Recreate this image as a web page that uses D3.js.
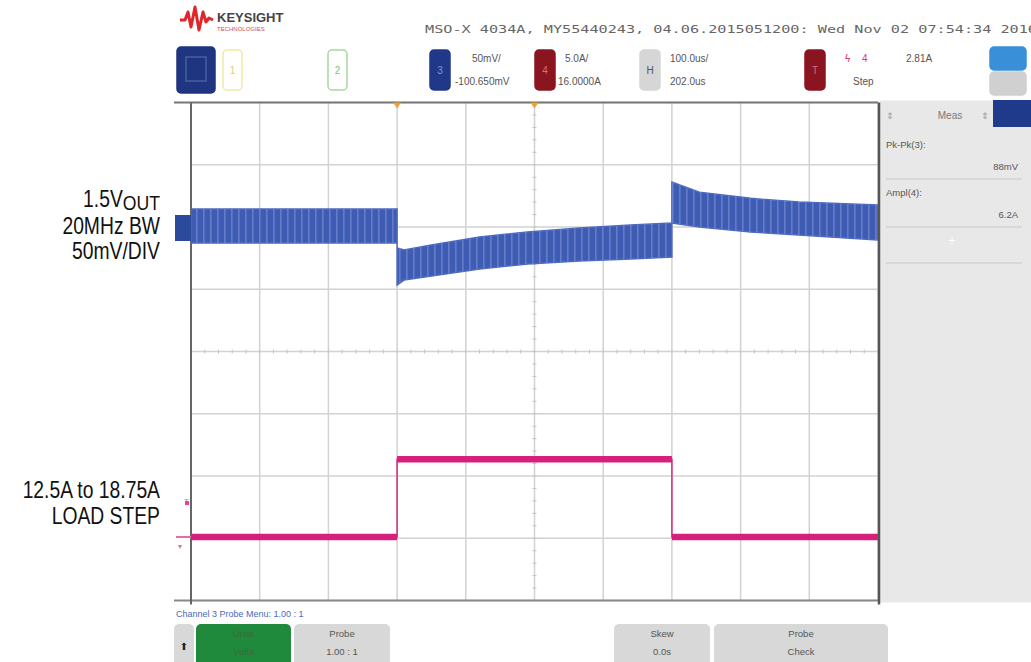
<!DOCTYPE html>
<html><head><meta charset="utf-8">
<script src="https://cdn.jsdelivr.net/npm/d3@7"></script>
<style>
html,body{margin:0;padding:0;background:#fff;}
svg{display:block;}
.lab{font-family:"Liberation Sans","Arial",sans-serif;font-size:23px;fill:#111;}
.ui{font-family:"Liberation Sans","DejaVu Sans",sans-serif;fill:#555;}
</style></head><body>
<svg id="c" width="1031" height="662"></svg>
<script>
// ---- data (time in µs across the 10-div screen, 100 µs/div) ----
const timeTicks = [0,100,200,300,400,500,600,700,800,900,1000];
const voltTicks = [-300,-250,-200,-150,-100,-50,0,50,100];   // mV around 1.5V, 50mV/div
// 1.5V output ripple envelope (mV deviation)
const vTime  = [0, 300, 300, 310, 350, 420, 490, 565, 640, 700, 700, 740, 815, 885, 1000];
const vUpper = [14.5, 14.5, -16.9, -18.5, -14.5, -8, -4, -0.8, 1.6, 3.2, 36, 28, 23, 20, 17.7];
const vLower = [-12.9, -12.9, -46.6, -42.6, -39.4, -33.7, -29.7, -27.3, -25.7, -24.1, 3.2, 0, -4, -6.4, -10.4];
// load current step (A)
const iTime  = [0, 300, 300, 700, 700, 1000];
const iLevel = [12.5, 12.5, 18.75, 18.75, 12.5, 12.5];
// measurement panel
const measNames  = ["Pk-Pk(3):", "Ampl(4):"];
const measValues = ["88mV", "6.2A"];

const svg = d3.select("#c");
const L=191, R=878, T=102.5, B=600.5;
const x  = d3.scaleLinear().domain([0,1000]).range([L,R]);
const yV = d3.scaleLinear().domain([-300,100]).range([B,T]);
const yI = d3.scaleLinear().domain([7.4,47.4]).range([B,T]);

const defs = svg.append("defs");
const pat = defs.append("pattern").attr("id","rip").attr("width",7).attr("height",5).attr("patternUnits","userSpaceOnUse");
pat.append("rect").attr("x",0).attr("y",0).attr("width",1.6).attr("height",5).attr("fill","#9aaae0").attr("opacity",0.4);
defs.append("clipPath").attr("id","plotclip").append("rect").attr("x",L).attr("y",T).attr("width",R-L).attr("height",B-T);

// ---------- header ----------
const logo = svg.append("g");
logo.append("path").attr("d","M180,20 L185,20 L188,12 L191,27 L195,7 L199,30 L203,12 L206,22 L209,18 L213,20")
  .attr("fill","none").attr("stroke","#e0262a").attr("stroke-width",3).attr("stroke-linejoin","round");
logo.append("text").attr("x",217).attr("y",22).attr("class","ui").style("font-size","13px").style("font-weight","bold").style("fill","#444").text("KEYSIGHT");
logo.append("text").attr("x",217).attr("y",31).attr("class","ui").style("font-size","6px").style("fill","#d05050").text("TECHNOLOGIES");
svg.append("text").attr("x",425).attr("y",33).style("font-family","DejaVu Sans Mono,monospace").style("font-size","11px").style("fill","#666")
  .attr("textLength",612).attr("lengthAdjust","spacingAndGlyphs").text("MSO-X 4034A, MY55440243, 04.06.2015051200: Wed Nov 02 07:54:34 2016");

function box(x0,y0,w,h,fill,stroke,label,lc){
  svg.append("rect").attr("x",x0).attr("y",y0).attr("width",w).attr("height",h).attr("rx",4)
    .attr("fill",fill).attr("stroke",stroke).attr("stroke-width",1.5);
  if(label) svg.append("text").attr("x",x0+w/2).attr("y",y0+h/2+4).attr("text-anchor","middle").attr("class","ui")
    .style("font-size","10px").style("fill",lc).text(label);
}
box(177,47,38,46,"#1f3580","#1f3580","","");
svg.append("rect").attr("x",186).attr("y",57).attr("width",20).attr("height",24).attr("fill","none").attr("stroke","#4a5fa0").attr("stroke-width",1.5);
box(223,50,19,40,"#fff","#f0eaa0","1","#e0d070");
box(328,50,19,40,"#fff","#a8d8a0","2","#80c070");
box(430,50,20,40,"#21388a","#21388a","3","#7f93d0");
box(535,50,20,40,"#8a1420","#8a1420","4","#d07080");
box(640,50,20,40,"#d6d6d6","#d6d6d6","H","#555");
box(805,50,20,40,"#8a1420","#8a1420","T","#d07080");
box(990,47,36,23,"#3a90d8","#3a90d8","","");
box(990,72,36,23,"#d0d0d0","#d0d0d0","","");
const hdr = [[472,62,"50mV/"],[455,85,"-100.650mV"],[565,62,"5.0A/"],[558,85,"16.0000A"],[670,62,"100.0us/"],[670,85,"202.0us"],[906,62,"2.81A"],[853,85,"Step"]];
hdr.forEach(d=>svg.append("text").attr("x",d[0]).attr("y",d[1]).attr("class","ui").style("font-size","10px").style("fill","#555").text(d[2]));
svg.append("text").attr("x",845).attr("y",62).attr("class","ui").style("font-size","10px").style("fill","#e0307a").text("ϟ");
svg.append("text").attr("x",862).attr("y",62).attr("class","ui").style("font-size","10px").style("fill","#e0307a").text("4");

// ---------- right measurement panel ----------
svg.append("rect").attr("x",R+2).attr("y",T-2).attr("width",1031-R-2).attr("height",B-T+4).attr("fill","#e8e8e8");
svg.append("rect").attr("x",993).attr("y",100).attr("width",38).attr("height",27).attr("fill","#1f3a8a");
svg.append("text").attr("x",950).attr("y",119).attr("text-anchor","middle").attr("class","ui").style("font-size","10px").style("fill","#777").text("Meas");
svg.append("text").attr("x",886).attr("y",119).attr("class","ui").style("font-size","9px").style("fill","#999").text("⇕");
svg.append("text").attr("x",981).attr("y",119).attr("class","ui").style("font-size","9px").style("fill","#999").text("⇕");
measNames.forEach((n,i)=>{
  const y0 = 148 + i*48;
  svg.append("text").attr("x",886).attr("y",y0).attr("class","ui").style("font-size","9.5px").style("fill","#555").text(n);
  svg.append("text").attr("x",1018).attr("y",y0+22).attr("text-anchor","end").attr("class","ui").style("font-size","9.5px").style("fill","#555").text(measValues[i]);
  svg.append("line").attr("x1",886).attr("x2",1022).attr("y1",y0+31).attr("y2",y0+31).attr("stroke","#c8c8c8");
});
svg.append("text").attr("x",952).attr("y",245).attr("text-anchor","middle").attr("class","ui").style("font-size","12px").style("fill","#fff").text("+");
svg.append("line").attr("x1",886).attr("x2",1022).attr("y1",263).attr("y2",263).attr("stroke","#c8c8c8");

// ---------- grid ----------
const g = svg.append("g");
g.selectAll(".vx").data(timeTicks).join("line").attr("x1",d=>x(d)).attr("x2",d=>x(d)).attr("y1",T).attr("y2",B)
  .attr("stroke","#d2d2d2").attr("stroke-width",1.5);
g.selectAll(".hy").data(voltTicks).join("line").attr("y1",d=>yV(d)).attr("y2",d=>yV(d)).attr("x1",L).attr("x2",R)
  .attr("stroke","#d2d2d2").attr("stroke-width",1.5);
// centre crosshair minor ticks
const xc = x(500), yc = yV(-100);
const minorX = d3.range(0,1000.1,20), minorY = d3.range(-300,100.1,10);
g.selectAll(".mx").data(minorX).join("line").attr("x1",d=>x(d)).attr("x2",d=>x(d)).attr("y1",yc-2).attr("y2",yc+2).attr("stroke","#c4c4c4");
g.selectAll(".my").data(minorY).join("line").attr("y1",d=>yV(d)).attr("y2",d=>yV(d)).attr("x1",xc-2).attr("x2",xc+2).attr("stroke","#c4c4c4");
// frame
svg.append("line").attr("x1",174).attr("x2",R).attr("y1",T).attr("y2",T).attr("stroke","#777").attr("stroke-width",2);
svg.append("line").attr("x1",174).attr("x2",R).attr("y1",B).attr("y2",B).attr("stroke","#888").attr("stroke-width",2);
svg.append("line").attr("x1",L).attr("x2",L).attr("y1",T).attr("y2",B+4).attr("stroke","#666").attr("stroke-width",2);
svg.append("line").attr("x1",R+1).attr("x2",R+1).attr("y1",T).attr("y2",B+4).attr("stroke","#555").attr("stroke-width",2.5);

// trigger / centre markers
[300,500].forEach(t=>svg.append("path").attr("d",`M${x(t)-4},${T} L${x(t)+4},${T} L${x(t)},${T+6}Z`).attr("fill","#f0a030"));

// ---------- traces ----------
const plot = svg.append("g").attr("clip-path","url(#plotclip)");
const vData = vTime.map((t,i)=>({t,u:vUpper[i],l:vLower[i]}));
const area = d3.area().x(d=>x(d.t)).y0(d=>yV(d.l)).y1(d=>yV(d.u));
plot.append("path").datum(vData).attr("d",area).attr("fill","#3f5cb4").attr("stroke","#4c69bf").attr("stroke-width",1.5);
plot.append("path").datum(vData).attr("d",area).attr("fill","url(#rip)");

const iData = iTime.map((t,i)=>({t,v:iLevel[i]}));
plot.append("path").datum(iData).attr("d",d3.line().x(d=>x(d.t)).y(d=>yI(d.v))).attr("fill","none").attr("stroke","#d8287f").attr("stroke-width",1.5);
const flat = d3.pairs(iData).filter(p=>p[0].v===p[1].v);
plot.selectAll(".flat").data(flat).join("line").attr("x1",p=>x(p[0].t)).attr("x2",p=>x(p[1].t))
  .attr("y1",p=>yI(p[0].v)).attr("y2",p=>yI(p[1].v)).attr("stroke","#d6207c").attr("stroke-width",6.5);

// channel markers on the left
svg.append("rect").attr("x",175).attr("y",yV(0)-12).attr("width",16).attr("height",26).attr("fill","#2b4a9c");
svg.append("text").attr("x",184).attr("y",yI(12.5)-33).attr("class","ui").style("font-size","8px").style("fill","#e070a0").text("T");
svg.append("rect").attr("x",185).attr("y",yI(12.5)-36).attr("width",4).attr("height",4).attr("fill","#e04890");
svg.append("path").attr("d",`M176,${yI(12.5)} L191,${yI(12.5)}`).attr("stroke","#e070a0").attr("stroke-width",2);
svg.append("text").attr("x",178).attr("y",yI(12.5)+12).attr("class","ui").style("font-size","8px").style("fill","#e070a0").text("▾");

// ---------- left annotations (condensed face) ----------
const lab = svg.append("g").attr("class","lab").attr("text-anchor","end")
  .attr("transform","translate(160,0) scale(0.84,1) translate(-160,0)");
const t1 = lab.append("text").attr("x",160).attr("y",207);
t1.append("tspan").text("1.5V");
t1.append("tspan").attr("dy",3).style("font-size","21px").text("OUT");
lab.append("text").attr("x",160).attr("y",234).text("20MHz BW");
lab.append("text").attr("x",160).attr("y",259).text("50mV/DIV");
lab.append("text").attr("x",160).attr("y",498).text("12.5A to 18.75A");
lab.append("text").attr("x",160).attr("y",524).text("LOAD STEP");

// ---------- bottom softkeys ----------
svg.append("text").attr("x",176).attr("y",617).attr("class","ui").style("font-size","9px").style("fill","#4a6ab8").text("Channel 3 Probe Menu: 1.00 : 1");
function key(x0,w,fill,l1,l2,lc){
  svg.append("rect").attr("x",x0).attr("y",624).attr("width",w).attr("height",45).attr("rx",5).attr("fill",fill);
  svg.append("text").attr("x",x0+w/2).attr("y",637).attr("text-anchor","middle").attr("class","ui").style("font-size","9.5px").style("fill",lc).text(l1);
  svg.append("text").attr("x",x0+w/2).attr("y",655).attr("text-anchor","middle").attr("class","ui").style("font-size","9.5px").style("fill",lc).text(l2);
}
key(174,20,"#d8d8d8","","","#333");
svg.append("text").attr("x",184).attr("y",650).attr("text-anchor","middle").attr("class","ui").style("font-size","10px").style("fill","#222").text("⬆");
key(196,95,"#1f8a3c","Units","Volts","#3a6a3a");
key(294,96,"#d8d8d8","Probe","1.00 : 1","#555");
key(614,96,"#d8d8d8","Skew","0.0s","#555");
key(714,174,"#d8d8d8","Probe","Check","#555");
</script>
</body></html>
